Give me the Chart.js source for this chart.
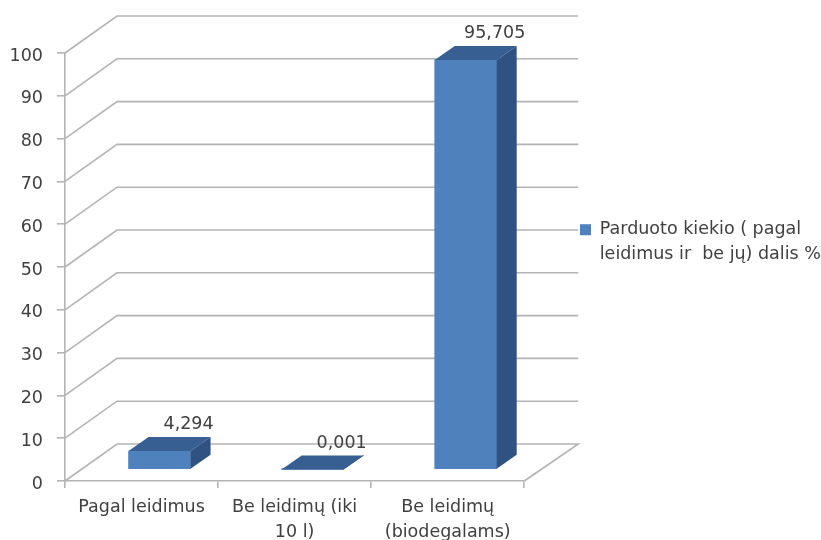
<!DOCTYPE html>
<html><head><meta charset="utf-8">
<style>html,body{margin:0;padding:0;background:#fff}#w{width:821px;height:540px;filter:blur(0.45px)}</style>
<script src="https://cdn.jsdelivr.net/npm/chart.js@4/dist/chart.umd.js"></script>
</head><body><div id="w"><canvas id="c"></canvas></div>
<script>
const categories = [["Pagal leidimus"], ["Be leidimų (iki", "10 l)"], ["Be leidimų", "(biodegalams)"]];
const seriesValues = [4.294, 0.001, 95.705];
const seriesLabel = ["Parduoto kiekio ( pagal", "leidimus ir  be jų) dalis %"];
const yTicks = [0,10,20,30,40,50,60,70,80,90,100];

const GRID = '#b4b4b4', TEXT = '#404040', FONT = '"DejaVu Sans"', FS = 17.5;
const WALL = {dx:52, dy:-37};
const BAR = {dx:18, dy:-11.5, sx:20, sy:-14};

const wall = {
  id:'wall',
  beforeDatasetsDraw(chart){
    const {ctx, chartArea:a, scales:{y}} = chart;
    ctx.save(); ctx.strokeStyle = GRID; ctx.lineWidth = 1.6;
    yTicks.forEach(v=>{
      const p = y.getPixelForValue(v);
      ctx.beginPath(); ctx.moveTo(a.left,p);
      ctx.lineTo(a.left+WALL.dx,p+WALL.dy);
      ctx.lineTo(a.right+WALL.dx+2,p+WALL.dy);
      if(v===0) ctx.lineTo(a.right,p);
      ctx.stroke();
    });
    ctx.restore();
  },
  beforeDatasetDraw(chart){ chart.ctx.save(); chart.ctx.translate(BAR.dx,BAR.dy); },
  afterDatasetDraw(chart,args){
    const ctx = chart.ctx;
    args.meta.data.forEach(b=>{
      const w=b.width, l=b.x-w/2, r=b.x+w/2;
      ctx.fillStyle='#375f91';
      ctx.beginPath(); ctx.moveTo(l,b.y); ctx.lineTo(r,b.y); ctx.lineTo(r+BAR.sx,b.y+BAR.sy); ctx.lineTo(l+BAR.sx,b.y+BAR.sy); ctx.closePath(); ctx.fill();
      ctx.fillStyle='#2f5282';
      ctx.beginPath(); ctx.moveTo(r,b.y); ctx.lineTo(r+BAR.sx,b.y+BAR.sy); ctx.lineTo(r+BAR.sx,b.base+BAR.sy); ctx.lineTo(r,b.base); ctx.closePath(); ctx.fill();
    });
    ctx.restore();
    ctx.save();
    ctx.fillStyle=TEXT; ctx.font=FS+'px '+FONT; ctx.textAlign='center'; ctx.textBaseline='middle';
    args.meta.data.forEach((b,i)=>{
      ctx.fillText(String(seriesValues[i]).replace('.',','), b.x+47, b.y-38);
    });
    ctx.restore();
  },
  afterLayout(chart){
    const l = chart.legend;
    l.left = 580; l.right = 821; l.top = 166; l.bottom = 326;
  }
};

new Chart(document.getElementById('c'),{
  type:'bar',
  data:{labels:categories,datasets:[{label:seriesLabel,data:seriesValues,backgroundColor:'#4f81bd',barThickness:62,clip:false}]},
  plugins:[wall],
  options:{
    responsive:true,maintainAspectRatio:false,animation:false,
    layout:{padding:{top:53,right:122,left:0,bottom:0}},
    plugins:{
      tooltip:{enabled:false},
      legend:{display:true,position:'right',align:'center',
        labels:{color:TEXT,font:{family:FONT,size:FS,lineHeight:1.43},boxWidth:11,boxHeight:11,padding:0,
          generateLabels(){return [{text:seriesLabel,fillStyle:'#4f81bd',strokeStyle:'#4f81bd',fontColor:TEXT,lineWidth:0,datasetIndex:0}];}}}
    },
    scales:{
      x:{grid:{display:true,drawOnChartArea:false,color:GRID,lineWidth:1.6,tickLength:7,offset:true},
         border:{color:GRID,width:1.6},
         ticks:{color:TEXT,font:{family:FONT,size:FS,lineHeight:1.43},maxRotation:0,autoSkip:false,padding:7},
         afterFit(s){s.height=59;}},
      y:{min:0,max:100,
         grid:{drawOnChartArea:false,color:GRID,lineWidth:1.6,tickLength:8},
         border:{color:GRID,width:1.6},
         ticks:{color:TEXT,font:{family:FONT,size:FS},stepSize:10,padding:14,labelOffset:3},
         afterFit(s){s.width=65;}}
    }
  }
});
</script></body></html>
